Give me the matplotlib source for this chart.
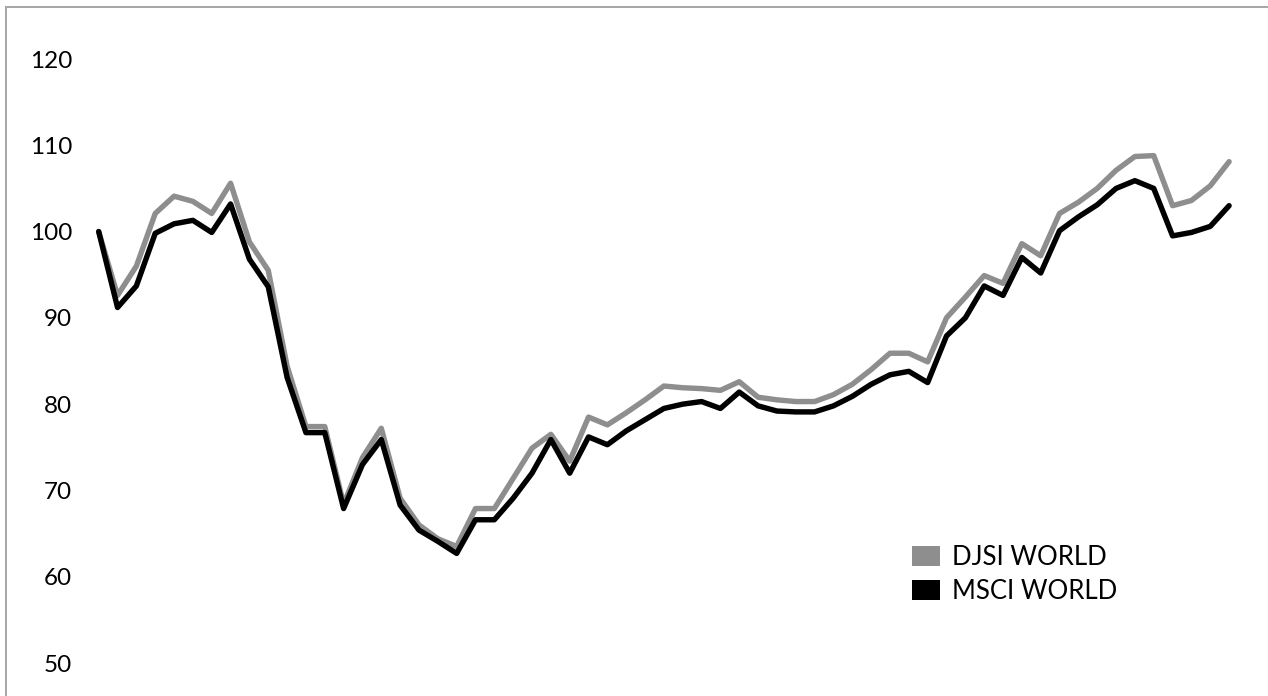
import matplotlib
matplotlib.use("Agg")
import matplotlib.pyplot as plt
from matplotlib.lines import Line2D
from matplotlib.patches import Patch

# monthly index values
djsi = [100.0, 92.6, 96.0, 102.1, 104.1, 103.5, 102.1, 105.6, 98.8, 95.5,
        84.4, 77.4, 77.4, 68.4, 73.8, 77.2, 69.1, 66.0, 64.4, 63.5,
        67.9, 67.9, 71.4, 74.9, 76.5, 73.4, 78.5, 77.6, 79.0, 80.5,
        82.1, 81.9, 81.8, 81.6, 82.6, 80.8, 80.5, 80.3, 80.3, 81.1,
        82.3, 84.0, 85.9, 85.9, 84.9, 90.0, 92.4, 94.9, 94.0, 98.6,
        97.2, 102.1, 103.4, 105.0, 107.1, 108.7, 108.8, 103.0, 103.6, 105.3,
        108.1]
msci = [100.0, 91.2, 93.7, 99.8, 100.9, 101.3, 99.9, 103.2, 96.8, 93.6,
        83.1, 76.7, 76.7, 67.9, 73.0, 75.9, 68.3, 65.4, 64.1, 62.7,
        66.6, 66.6, 69.1, 72.0, 75.9, 72.0, 76.2, 75.3, 76.9, 78.2,
        79.5, 80.0, 80.3, 79.5, 81.4, 79.8, 79.2, 79.1, 79.1, 79.8,
        80.9, 82.3, 83.4, 83.8, 82.5, 87.9, 90.0, 93.7, 92.6, 97.0,
        95.2, 100.1, 101.7, 103.1, 105.0, 105.9, 105.0, 99.5, 99.9, 100.6,
        103.0]
yticks = [50, 60, 70, 80, 90, 100, 110, 120]
labels = ["DJSI WORLD", "MSCI WORLD"]
colors = ["#8e8e8e", "#000000"]

plt.rcParams['font.family'] = ['Lato', 'DejaVu Sans']

W, H = 1268, 696
fig = plt.figure(figsize=(W / 100, H / 100), dpi=100)
x0, x1 = 98.7, 1229.1
y50, y120 = 663, 59
ax = fig.add_axes([x0 / W, (H - y50) / H, (x1 - x0) / W, (y50 - y120) / H])

months = list(range(len(djsi)))
ax.plot(months, djsi, color=colors[0], lw=3.9, solid_joinstyle='round',
        solid_capstyle='round', clip_on=False)
ax.plot(months, msci, color=colors[1], lw=3.9, solid_joinstyle='round',
        solid_capstyle='round', clip_on=False)

ax.set_xlim(0, len(djsi) - 1)
ax.set_ylim(50, 120)
ax.set_yticks(yticks)
ax.set_xticks([])
ax.tick_params(axis='y', length=0, pad=19, labelsize=17.5)
for s in ax.spines.values():
    s.set_visible(False)

handles = [Patch(facecolor=c, edgecolor='none') for c in colors]
ax.legend(handles, labels, loc='upper left',
          bbox_to_anchor=(912 / W, (H - 545) / H), bbox_transform=fig.transFigure,
          frameon=False, fontsize=18.5, handlelength=1.1, handleheight=0.85,
          handletextpad=0.45, labelspacing=0.35, borderpad=0, borderaxespad=0)

# thin gray frame on top and left
fig.add_artist(Line2D([6 / W, 6 / W], [0, 1 - 6.5 / H], color='#a6a6a6', lw=1.4))
fig.add_artist(Line2D([6 / W, 1], [1 - 6.5 / H, 1 - 6.5 / H], color='#a6a6a6', lw=1.4))

fig.savefig("out.png", dpi=100)
